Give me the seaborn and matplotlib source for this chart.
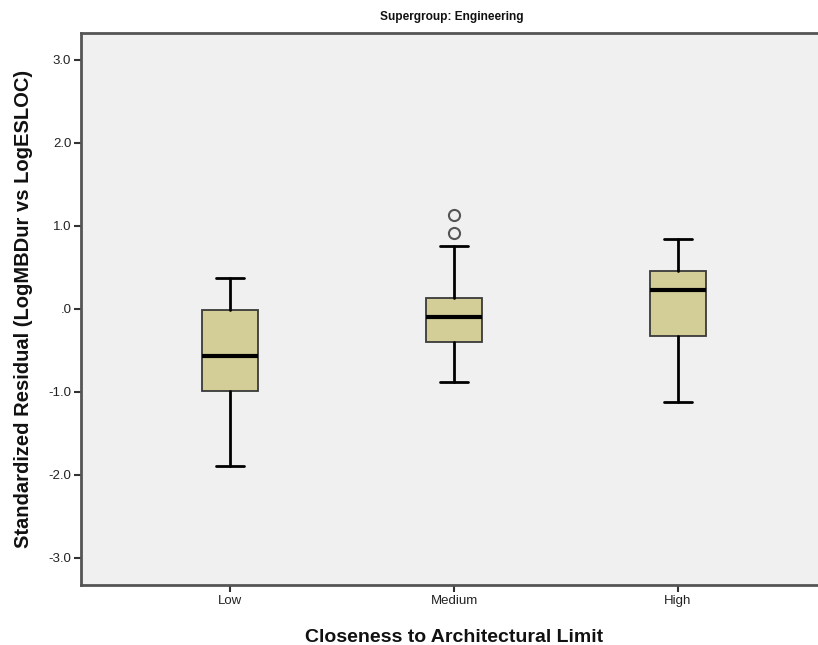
import matplotlib
matplotlib.use("Agg")
import matplotlib.pyplot as plt
import seaborn as sns
from matplotlib import font_manager

# Box summary per closeness level (Tukey-style five numbers + outliers)
categories = ["Low", "Medium", "High"]
whisker_low = [-1.90, -0.88, -1.12]
q1_vals = [-0.99, -0.40, -0.327]
medians = [-0.57, -0.095, 0.224]
q3_vals = [-0.02, 0.127, 0.456]
whisker_high = [0.37, 0.76, 0.845]
outliers = [[], [0.91, 1.135], []]

y_ticks = [-3.0, -2.0, -1.0, 0.0, 1.0, 2.0, 3.0]
y_tick_labels = ["-3.0", "-2.0", "-1.0", ".0", "1.0", "2.0", "3.0"]

sns.set_theme(style="ticks")
names = {f.name for f in font_manager.fontManager.ttflist}
narrow = "Liberation Sans Narrow" if "Liberation Sans Narrow" in names else "Liberation Sans"
plt.rcParams["font.family"] = ["Liberation Sans", "DejaVu Sans"]

fig = plt.figure(figsize=(8.18, 6.45), dpi=100)
ax = fig.add_axes([81 / 818, 1 - 585 / 645, 746 / 818, 552 / 645])
ax.set_facecolor("#F0F0F0")

stats = []
for i, cat in enumerate(categories):
    stats.append(dict(label=cat, whislo=whisker_low[i], q1=q1_vals[i], med=medians[i],
                      q3=q3_vals[i], whishi=whisker_high[i], fliers=outliers[i]))

ax.bxp(stats, positions=range(len(categories)), widths=0.253, patch_artist=True,
       boxprops=dict(facecolor="#D3CE97", edgecolor="#3a3a3a", linewidth=1.3),
       medianprops=dict(color="black", linewidth=3.0),
       whiskerprops=dict(color="black", linewidth=2.0),
       capprops=dict(color="black", linewidth=2.0),
       capwidths=0.126,
       flierprops=dict(marker="o", markersize=8, markerfacecolor="none",
                       markeredgecolor="#555555", markeredgewidth=1.5))

ax.set_xlim(-0.665, 2.665)
ax.set_ylim(-3.33, 3.325)
ax.set_yticks(y_ticks)
ax.set_yticklabels(y_tick_labels, fontsize=9.5, family=[narrow, "DejaVu Sans"], color="#222222")
ax.set_xticks(range(len(categories)))
ax.set_xticklabels(categories, fontsize=9.5, family=[narrow, "DejaVu Sans"], color="#222222")
ax.tick_params(axis="both", direction="out", length=5, width=1.5, color="#333333", pad=2)

for side in ["left", "bottom", "top"]:
    ax.spines[side].set_color("#555555")
    ax.spines[side].set_linewidth(2.0)
ax.spines["right"].set_visible(False)

ax.set_xlabel("Closeness to Architectural Limit", fontsize=14, fontweight="bold",
              labelpad=16, color="#111111")
ax.set_ylabel("Standardized Residual (LogMBDur vs LogESLOC)", fontsize=14.5,
              fontweight="bold", labelpad=11, color="#111111")
fig.text(452 / 818, 1 - 17 / 645, "Supergroup: Engineering", ha="center", va="center",
         fontsize=8.6, fontweight="bold", color="#111111")

fig.savefig("out.png", dpi=100)
